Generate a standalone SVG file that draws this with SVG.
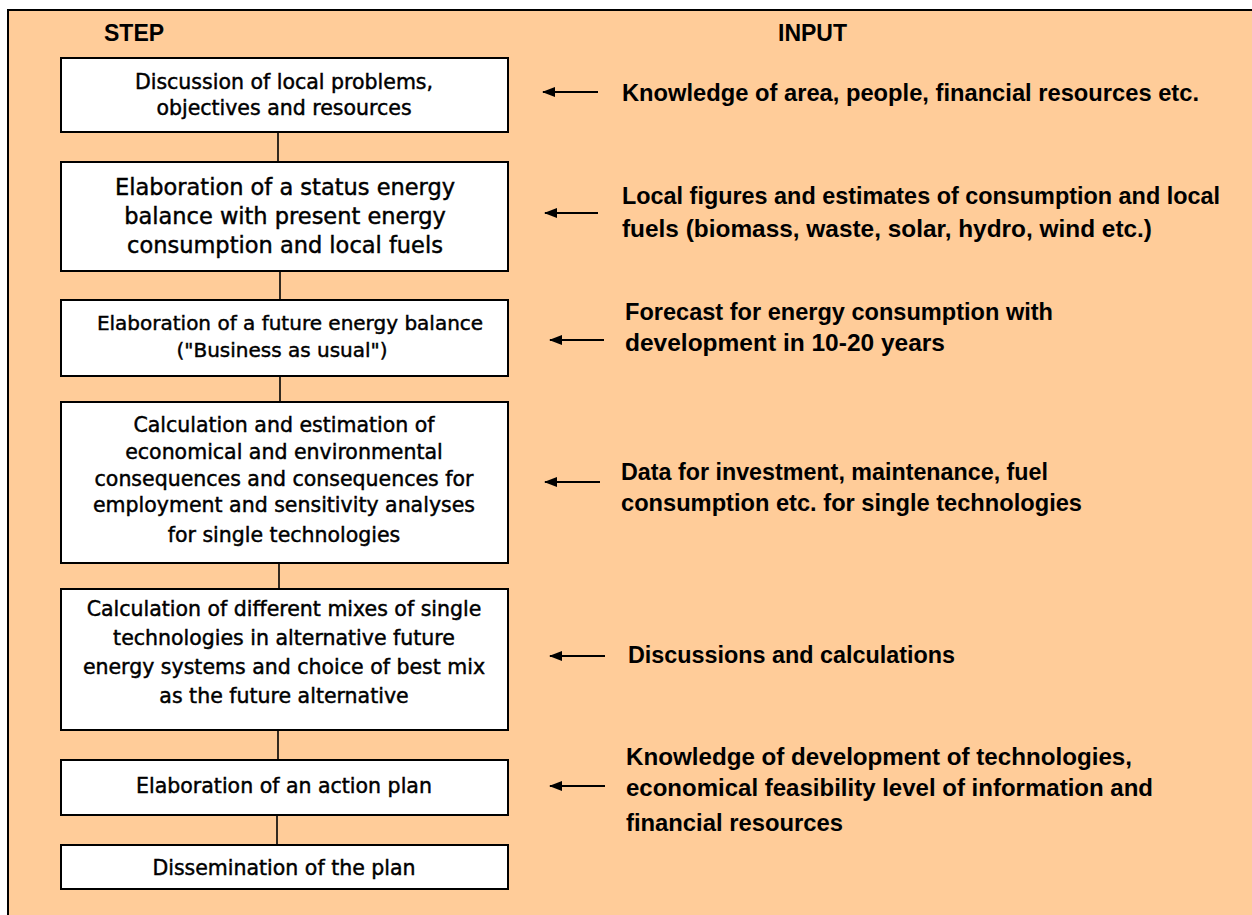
<svg xmlns="http://www.w3.org/2000/svg" width="1252" height="915" viewBox="0 0 1252 915">
<style>
.bg{fill:#FFCC99;stroke:#000;stroke-width:2}
.box{fill:#fff;stroke:#000;stroke-width:2}
.bt{font-family:"DejaVu Sans",sans-serif;font-size:20.5px;fill:#000;stroke:#000;stroke-width:0.45;text-anchor:middle}
.hd{font-family:"Liberation Sans",Arial,sans-serif;font-weight:bold;font-size:23px;fill:#000}
.rt{font-family:"Liberation Sans Narrow","Liberation Sans",Arial,sans-serif;font-weight:bold;font-size:24px;fill:#000}
.cn{stroke:#000;stroke-width:1.6;fill:none}
.ar{stroke:#000;stroke-width:2;fill:none;marker-end:url(#ah)}
</style>
<defs>
<marker id="ah" viewBox="0 0 13 10" refX="12" refY="5" markerWidth="13" markerHeight="10" markerUnits="userSpaceOnUse" orient="auto">
<path d="M0,0 L13,5 L0,10 z" fill="#000"/>
</marker>
</defs>
<rect class="bg" x="8" y="10" width="1260" height="920"/>
<g id="headers">
<text class="hd" x="104" y="41">STEP</text>
<text class="hd" x="778" y="41">INPUT</text>
</g>
<g id="connectors">
<line class="cn" x1="278" y1="132" x2="278" y2="162"/>
<line class="cn" x1="280" y1="271" x2="280" y2="300"/>
<line class="cn" x1="280" y1="376" x2="280" y2="402"/>
<line class="cn" x1="279" y1="563" x2="279" y2="589"/>
<line class="cn" x1="278" y1="730" x2="278" y2="760"/>
<line class="cn" x1="277" y1="815" x2="277" y2="845"/>
<line class="ar" x1="598" y1="92" x2="543" y2="92"/>
<line class="ar" x1="598" y1="213" x2="545" y2="213"/>
<line class="ar" x1="604" y1="340" x2="550" y2="340"/>
<line class="ar" x1="600" y1="482" x2="545" y2="482"/>
<line class="ar" x1="605" y1="656" x2="550" y2="656"/>
<line class="ar" x1="605" y1="786" x2="550" y2="786"/>
</g>
<g id="step1">
<rect class="box" x="61" y="58" width="447" height="74"/>
<text class="bt" x="284" y="89">Discussion of local problems,</text>
<text class="bt" x="284" y="115">objectives and resources</text>
</g>
<g id="step2">
<rect class="box" x="61" y="162" width="447" height="109"/>
<text class="bt" x="285" y="195" style="font-size:22.5px">Elaboration of a status energy</text>
<text class="bt" x="285" y="224" style="font-size:22.5px">balance with present energy</text>
<text class="bt" x="285" y="253" style="font-size:22.5px">consumption and local fuels</text>
</g>
<g id="step3">
<rect class="box" x="61" y="300" width="447" height="76"/>
<text class="bt" x="290" y="330" style="font-size:20px">Elaboration of a future energy balance</text>
<text class="bt" x="282" y="357" style="font-size:20px">("Business as usual")</text>
</g>
<g id="step4">
<rect class="box" x="61" y="402" width="447" height="161"/>
<text class="bt" x="284" y="432">Calculation and estimation of</text>
<text class="bt" x="284" y="459">economical and environmental</text>
<text class="bt" x="284" y="486">consequences and consequences for</text>
<text class="bt" x="284" y="512">employment and sensitivity analyses</text>
<text class="bt" x="284" y="542">for single technologies</text>
</g>
<g id="step5">
<rect class="box" x="61" y="589" width="447" height="141"/>
<text class="bt" x="284" y="616">Calculation of different mixes of single</text>
<text class="bt" x="284" y="645">technologies in alternative future</text>
<text class="bt" x="284" y="674">energy systems and choice of best mix</text>
<text class="bt" x="284" y="703">as the future alternative</text>
</g>
<g id="step6">
<rect class="box" x="61" y="760" width="447" height="55"/>
<text class="bt" x="284" y="793">Elaboration of an action plan</text>
</g>
<g id="step7">
<rect class="box" x="61" y="845" width="447" height="44"/>
<text class="bt" x="284" y="875">Dissemination of the plan</text>
</g>
<g id="input1">
<text class="rt" x="622" y="101" textLength="577" lengthAdjust="spacingAndGlyphs">Knowledge of area, people, financial resources etc.</text>
</g>
<g id="input2">
<text class="rt" x="622" y="204" textLength="598" lengthAdjust="spacingAndGlyphs">Local figures and estimates of consumption and local</text>
<text class="rt" x="622" y="237" textLength="530" lengthAdjust="spacingAndGlyphs">fuels (biomass, waste, solar, hydro, wind etc.)</text>
</g>
<g id="input3">
<text class="rt" x="625" y="320" textLength="428" lengthAdjust="spacingAndGlyphs">Forecast for energy consumption with</text>
<text class="rt" x="625" y="351" textLength="320" lengthAdjust="spacingAndGlyphs">development in 10-20 years</text>
</g>
<g id="input4">
<text class="rt" x="621" y="480" textLength="427" lengthAdjust="spacingAndGlyphs">Data for investment, maintenance, fuel</text>
<text class="rt" x="621" y="511" textLength="461" lengthAdjust="spacingAndGlyphs">consumption etc. for single technologies</text>
</g>
<g id="input5">
<text class="hd" x="628" y="663" textLength="327" lengthAdjust="spacingAndGlyphs">Discussions and calculations</text>
</g>
<g id="input6">
<text class="rt" x="626" y="765" textLength="506" lengthAdjust="spacingAndGlyphs">Knowledge of development of technologies,</text>
<text class="rt" x="626" y="796" textLength="527" lengthAdjust="spacingAndGlyphs">economical feasibility level of information and</text>
<text class="rt" x="626" y="831" textLength="217" lengthAdjust="spacingAndGlyphs">financial resources</text>
</g>
</svg>
